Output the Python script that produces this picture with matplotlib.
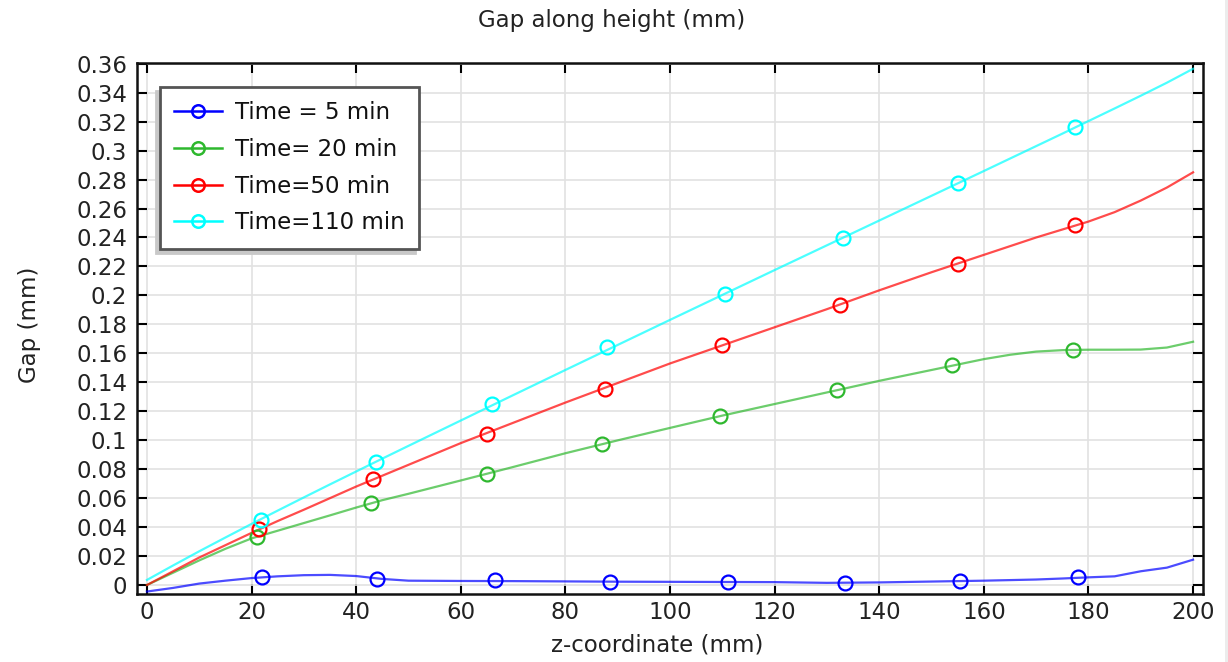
import matplotlib
matplotlib.use("Agg")
import matplotlib.pyplot as plt
from matplotlib.patches import Rectangle

# gap profile along the z-coordinate, one curve per time step
z_line = [0, 5, 10, 15, 20, 25, 30, 35, 40, 45, 50, 60, 70, 80, 90, 100,
          110, 120, 130, 140, 150, 160, 165, 170, 175, 180, 185, 190, 195, 200]

gap_5 = [-0.0045, -0.002, 0.001, 0.003, 0.0048, 0.006, 0.0068, 0.007, 0.0062,
         0.0042, 0.003, 0.0028, 0.0027, 0.0025, 0.0023, 0.0022, 0.0021, 0.002,
         0.0015, 0.0018, 0.0024, 0.003, 0.0034, 0.0038, 0.0045, 0.0053, 0.006,
         0.0095, 0.012, 0.0175]
gap_20 = [0.0, 0.0085, 0.017, 0.025, 0.0322, 0.0375, 0.0428, 0.0481, 0.0535,
          0.0586, 0.063, 0.0722, 0.0815, 0.091, 0.0999, 0.1085, 0.117, 0.125,
          0.133, 0.141, 0.1485, 0.156, 0.159, 0.1612, 0.1622, 0.1625, 0.1625,
          0.1626, 0.164, 0.168]
gap_50 = [0.0, 0.0095, 0.019, 0.0275, 0.036, 0.0442, 0.052, 0.06, 0.068, 0.0755,
          0.083, 0.098, 0.112, 0.126, 0.1395, 0.153, 0.1655, 0.178, 0.1905,
          0.2035, 0.216, 0.228, 0.234, 0.24, 0.2455, 0.251, 0.2575, 0.2655,
          0.2745, 0.285]
gap_110 = [0.0035, 0.0135, 0.0233, 0.0328, 0.0422, 0.0514, 0.0605, 0.0695,
           0.0784, 0.0873, 0.0961, 0.1136, 0.1311, 0.1485, 0.1658, 0.1831,
           0.2003, 0.2175, 0.2346, 0.2517, 0.2688, 0.2859, 0.2945, 0.3031,
           0.3117, 0.3204, 0.3291, 0.3379, 0.3469, 0.3565]

# marker positions on each curve
z_mark_5 = [22, 44, 66.5, 88.5, 111, 133.5, 155.5, 178]
m_gap_5 = [0.0055, 0.0045, 0.0032, 0.0023, 0.0021, 0.0017, 0.0029, 0.0053]
z_mark_20 = [21, 42.8, 65, 87, 109.5, 132, 154, 177]
m_gap_20 = [0.0333, 0.0565, 0.0768, 0.0973, 0.1165, 0.1346, 0.152, 0.1623]
z_mark_50 = [21.5, 43.3, 65, 87.5, 110, 132.5, 155, 177.5]
m_gap_50 = [0.0386, 0.073, 0.1045, 0.1355, 0.1655, 0.1937, 0.2217, 0.2483]
z_mark_110 = [21.8, 43.8, 66, 88, 110.5, 133, 155, 177.5]
m_gap_110 = [0.0452, 0.0848, 0.1249, 0.1641, 0.2011, 0.2397, 0.2774, 0.3161]

labels = ["Time = 5 min", "Time= 20 min", "Time=50 min", "Time=110 min"]
colors = ["#0000ff", "#2eb82e", "#ff0000", "#00ffff"]

x_ticks = list(range(0, 201, 20))
y_ticks = [i * 0.02 for i in range(19)]
y_tick_labels = ["0", "0.02", "0.04", "0.06", "0.08", "0.1", "0.12", "0.14",
                 "0.16", "0.18", "0.2", "0.22", "0.24", "0.26", "0.28", "0.3",
                 "0.32", "0.34", "0.36"]

FS = 16.5
plt.rcParams['font.family'] = ['DejaVu Sans']

fig = plt.figure(figsize=(12.28, 6.62), dpi=100)
ax = fig.add_axes([137 / 1228, 1 - 594 / 662, (1203 - 137) / 1228, (594 - 63) / 662])

# thin grey strip along the right edge
fig.patches.append(Rectangle((1225 / 1228, 0), 3 / 1228, 1, transform=fig.transFigure,
                             facecolor="#ececec", edgecolor="none"))

lines_y = [gap_5, gap_20, gap_50, gap_110]
marks_x = [z_mark_5, z_mark_20, z_mark_50, z_mark_110]
marks_y = [m_gap_5, m_gap_20, m_gap_50, m_gap_110]

handles = []
for ly, mx, my, c, lab in zip(lines_y, marks_x, marks_y, colors, labels):
    ax.plot(z_line, ly, color=c, lw=1.6, alpha=0.7, zorder=3)
    ax.plot(mx, my, linestyle="none", marker="o", markersize=10,
            markerfacecolor="none", markeredgecolor=c, markeredgewidth=1.6, zorder=4)
    h, = ax.plot([], [], color=c, lw=1.8, marker="o", markersize=9,
                 markerfacecolor="none", markeredgewidth=1.8, label=lab)
    handles.append(h)

ax.set_xlim(-1.9, 201.9)
ax.set_ylim(-0.0062, 0.3605)
ax.set_xticks(x_ticks)
ax.set_yticks(y_ticks)
ax.set_yticklabels(y_tick_labels)
ax.grid(True, color="#e2e2e2", lw=1.2, zorder=0)
ax.set_axisbelow(True)

ax.tick_params(direction="in", length=7, width=1.5, top=True, right=True,
               labelsize=FS, colors="black", labelcolor="#222222")
ax.tick_params(axis="y", pad=7)
ax.tick_params(axis="x", pad=5)
for side in ax.spines.values():
    side.set_linewidth(1.8)
    side.set_color("#111111")

fig.text(612 / 1228, 1 - 20 / 662, "Gap along height (mm)", fontsize=FS,
         color="#222222", ha="center", va="center")
ax.set_xlabel("z-coordinate (mm)", fontsize=FS, color="#222222")
ax.set_ylabel("Gap (mm)", fontsize=FS, color="#222222")
ax.xaxis.set_label_coords((657 - 137) / (1203 - 137), -(645 - 594) / (594 - 63))
ax.yaxis.set_label_coords(-(137 - 30) / (1203 - 137), (594 - 325) / (594 - 63))
ax.xaxis.label.set_va("center")
ax.yaxis.label.set_va("center")

leg = ax.legend(handles=handles, loc="upper left",
                bbox_to_anchor=(160 / 1228, 1 - 87 / 662), bbox_transform=fig.transFigure,
                borderaxespad=0, fontsize=FS, frameon=True, fancybox=False,
                shadow={"ox": -3, "oy": -3, "color": "#c8c8c8", "alpha": 1.0},
                handlelength=2.1, handletextpad=0.55, labelspacing=0.6,
                borderpad=0.62, framealpha=1.0)
leg.get_frame().set_edgecolor("#555555")
leg.get_frame().set_linewidth(2.0)
for t in leg.get_texts():
    t.set_color("#111111")

fig.savefig("out.png", dpi=100, facecolor="white")
